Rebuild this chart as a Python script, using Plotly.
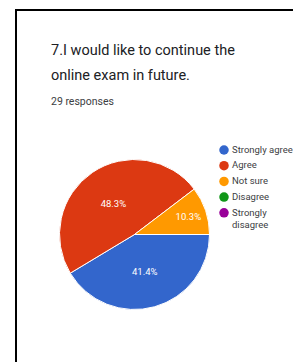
import plotly.graph_objects as go

categories = ["Strongly agree", "Agree", "Not sure", "Disagree", "Strongly disagree"]
legend_labels = ["Strongly agree", "Agree", "Not sure", "Disagree", "Strongly<br>disagree"]
counts = [12, 14, 3, 0, 0]
colors = ["#3366cc", "#dc3912", "#ff9900", "#109618", "#990099"]
title_lines = ["7.I would like to continue the", "online exam in future."]
subtitle = "29 responses"

W, H = 301, 362
OFF = 8  # page body margin

def px(x):
    return (x - OFF) / W

def py(y):
    return 1 - (y - OFF) / H

fig = go.Figure()

cx, cy, r = 134.5, 234.5, 75
fig.add_trace(go.Pie(
    labels=categories,
    values=counts,
    marker=dict(colors=colors, line=dict(color="white", width=1)),
    sort=False,
    direction="clockwise",
    rotation=90,
    texttemplate="%{percent:.1%}",
    textposition="inside",
    insidetextorientation="horizontal",
    textfont=dict(color="white", size=9.5, family="Roboto"),
    showlegend=False,
    domain=dict(x=[px(cx - r), px(cx + r)], y=[py(cy + r), py(cy - r)]),
    hoverinfo="label+percent",
))

# legend drawn on an overlay axis in pixel units
leg_x, leg_y0, leg_step = 224, 150, 15.7
leg_y = [leg_y0 + i * leg_step for i in range(len(categories))]
fig.add_trace(go.Scatter(
    x=[leg_x] * len(categories), y=leg_y, mode="markers",
    marker=dict(color=colors, size=9.5, symbol="circle"),
    text=categories, hoverinfo="text", showlegend=False,
))

fig.update_xaxes(visible=False, range=[OFF, OFF + W], domain=[0, 1], fixedrange=True)
fig.update_yaxes(visible=False, range=[OFF + H, OFF], domain=[0, 1], fixedrange=True)

annotations = [
    dict(text=title_lines[0], x=49, y=50, xref="x", yref="y",
         xanchor="left", yanchor="middle", showarrow=False,
         font=dict(family="Roboto", size=14.5, color="#202124")),
    dict(text=title_lines[1], x=49, y=75, xref="x", yref="y",
         xanchor="left", yanchor="middle", showarrow=False,
         font=dict(family="Roboto", size=14.5, color="#202124")),
    dict(text=subtitle, x=49, y=101, xref="x", yref="y",
         xanchor="left", yanchor="middle", showarrow=False,
         font=dict(family="Roboto", size=10.5, color="#3c4043")),
]
for lab, yy in zip(legend_labels, leg_y):
    annotations.append(dict(
        text=lab, x=230, y=yy - 1, xref="x", yref="y",
        xanchor="left", yanchor="top" if "<br>" in lab else "middle",
        yshift=7 if "<br>" in lab else 0,
        align="left", showarrow=False,
        font=dict(family="Roboto", size=9.5, color="#3c4043")))

fig.update_layout(
    width=W, height=H,
    margin=dict(l=0, r=0, t=0, b=0),
    paper_bgcolor="white", plot_bgcolor="white",
    annotations=annotations,
    shapes=[dict(type="rect", xref="x", yref="y",
                 x0=16, x1=340, y0=10, y1=400,
                 line=dict(color="black", width=2), fillcolor="rgba(0,0,0,0)")],
)

fig.write_html("out.html")
